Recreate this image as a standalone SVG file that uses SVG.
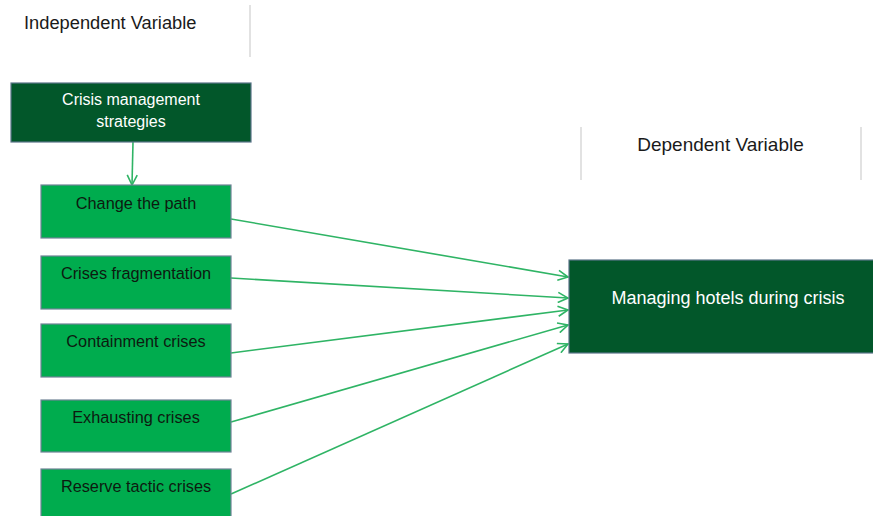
<svg xmlns="http://www.w3.org/2000/svg" width="873" height="516" viewBox="0 0 873 516">
<defs>
<style>
.hdr{font-family:"Liberation Sans",Arial,sans-serif;font-size:18.3px;fill:#1a1a1a}
.sep{stroke:#d9d9d9;stroke-width:1.5}
.dark{fill:#02572a;stroke:#5b7489;stroke-width:1.2}
.light{fill:#00ac4e;stroke:#6f8396;stroke-width:1.2}
.wt{font-family:"Liberation Sans",Arial,sans-serif;font-size:16px;fill:#ffffff;text-anchor:middle}
.bt{font-family:"Liberation Sans",Arial,sans-serif;font-size:16.3px;fill:#0d1a10;text-anchor:middle}
.con{stroke:#2fb465;stroke-width:1.6;fill:none;marker-end:url(#ah)}
</style>
<marker id="ah" viewBox="0 0 12 12" refX="11" refY="6" markerWidth="12" markerHeight="12" markerUnits="userSpaceOnUse" orient="auto">
<path d="M1,1 L11,6 L1,11" fill="none" stroke="#2fb465" stroke-width="1.6"/>
</marker>
</defs>
<rect width="873" height="516" fill="#ffffff"/>
<g id="header-independent">
<text class="hdr" x="24" y="29">Independent Variable</text>
<line class="sep" x1="250" y1="5" x2="250" y2="57"/>
</g>
<g id="header-dependent">
<line class="sep" x1="581" y1="127" x2="581" y2="180"/>
<line class="sep" x1="861" y1="127" x2="861" y2="180"/>
<text class="hdr" x="720.5" y="151" text-anchor="middle" style="font-size:19px">Dependent Variable</text>
</g>
<g id="connectors">
<line class="con" x1="133" y1="142" x2="132" y2="185"/>
<line class="con" x1="231" y1="219" x2="568" y2="277"/>
<line class="con" x1="231" y1="278" x2="568" y2="298"/>
<line class="con" x1="231" y1="353" x2="568" y2="310"/>
<line class="con" x1="231" y1="422" x2="568" y2="325"/>
<line class="con" x1="231" y1="494" x2="568" y2="344"/>
</g>
<g id="node-strategies">
<rect class="dark" x="11" y="83" width="240" height="59"/>
<text class="wt" x="131" y="105">Crisis management</text>
<text class="wt" x="131" y="127">strategies</text>
</g>
<g id="node-change-path">
<rect class="light" x="41" y="185" width="190" height="53"/>
<text class="bt" x="136" y="209">Change the path</text>
</g>
<g id="node-fragmentation">
<rect class="light" x="41" y="256" width="190" height="53"/>
<text class="bt" x="136" y="279">Crises fragmentation</text>
</g>
<g id="node-containment">
<rect class="light" x="41" y="324" width="190" height="53"/>
<text class="bt" x="136" y="347">Containment crises</text>
</g>
<g id="node-exhausting">
<rect class="light" x="41" y="400" width="190" height="52"/>
<text class="bt" x="136" y="423">Exhausting crises</text>
</g>
<g id="node-reserve">
<rect class="light" x="41" y="469" width="190" height="53"/>
<text class="bt" x="136" y="492">Reserve tactic crises</text>
</g>
<g id="node-managing">
<rect class="dark" x="569" y="260" width="310" height="93"/>
<text class="wt" x="728" y="304" style="font-size:18px">Managing hotels during crisis</text>
</g>
</svg>
